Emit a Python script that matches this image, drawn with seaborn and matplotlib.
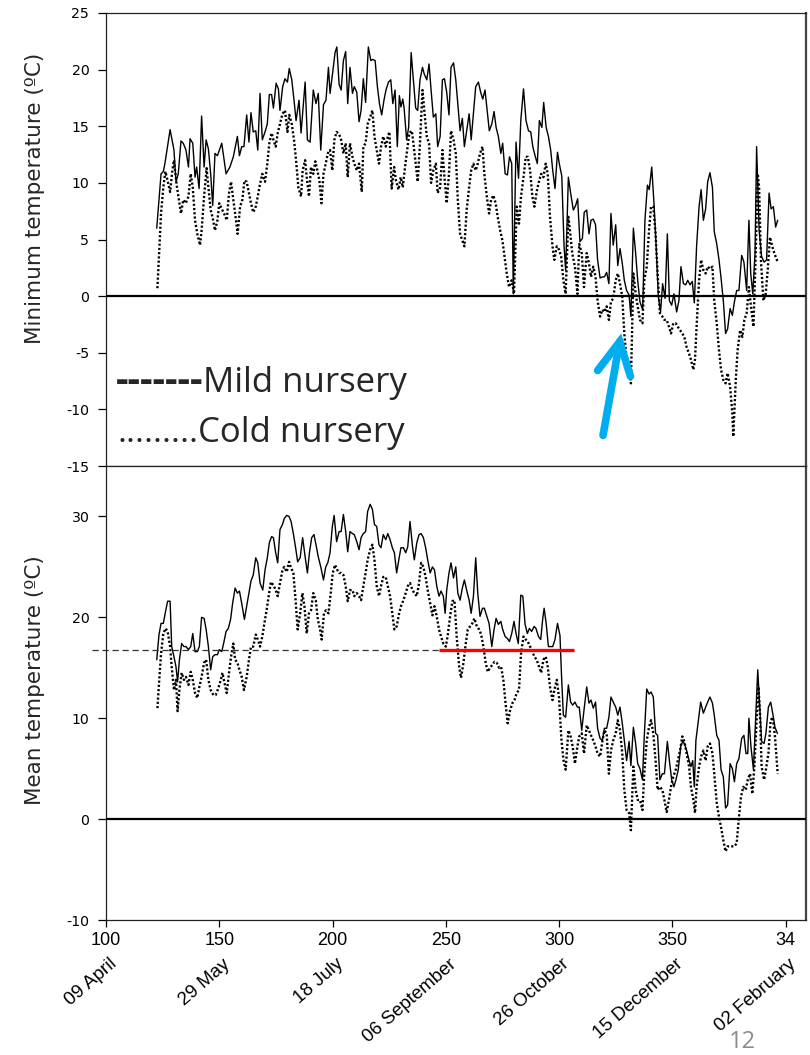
import matplotlib
matplotlib.use("Agg")
import matplotlib.pyplot as plt
import matplotlib.transforms as mtransforms
import pandas as pd
import seaborn as sns

# ---------------------------------------------------------------------------
# Daily temperatures (day of year, degC); days past 365 run into the next year
# ---------------------------------------------------------------------------
MILD_MIN = [
    (122.4, 6.0), (124.3, 10.8), (125.3, 11.0), (126.0, 11.7), (128.3, 14.7), (130.0, 12.9),
    (130.9, 10.1), (131.9, 10.8), (133.1, 13.7), (134.1, 13.5), (135.3, 12.9), (136.4, 11.4),
    (137.1, 13.9), (138.3, 13.5), (139.3, 10.5), (140.0, 11.4), (141.1, 9.5), (142.2, 15.9),
    (143.3, 11.4), (144.2, 13.8), (145.2, 13.0), (146.2, 10.8), (147.1, 8.0), (148.1, 12.6),
    (149.2, 12.4), (151.1, 13.5), (153.0, 10.8), (154.7, 11.4), (156.2, 12.3), (158.0, 14.1),
    (158.9, 12.4), (159.9, 13.2), (160.9, 13.2), (162.1, 16.0), (163.1, 13.6), (164.0, 16.2),
    (165.0, 14.5), (166.1, 14.6), (167.0, 12.9), (168.0, 17.9), (169.0, 13.8), (170.2, 14.5),
    (171.2, 15.2), (172.1, 17.8), (173.1, 17.8), (173.9, 16.6), (175.1, 18.8), (176.1, 18.3),
    (176.8, 16.4), (178.0, 18.5), (179.0, 19.2), (180.1, 18.9), (180.9, 20.1), (182.0, 19.1),
    (183.0, 17.3), (183.9, 15.5), (185.2, 17.3), (186.1, 14.4), (187.9, 18.9), (188.9, 13.8),
    (190.1, 13.6), (191.5, 18.2), (192.7, 17.0), (193.7, 17.9), (194.8, 12.9), (196.0, 16.9),
    (197.1, 17.3), (198.2, 20.2), (198.9, 17.9), (200.1, 19.8), (201.1, 21.5), (201.9, 22.0),
    (202.9, 18.7), (203.8, 18.2), (204.8, 20.8), (205.8, 21.6), (206.7, 17.0), (207.7, 20.2),
    (208.8, 17.9), (209.6, 18.5), (210.7, 18.0), (211.7, 15.4), (212.6, 16.4), (213.6, 19.2),
    (214.6, 17.1), (215.8, 22.0), (216.9, 20.8), (217.7, 20.9), (218.8, 20.8), (219.8, 18.5),
    (220.7, 17.0), (221.7, 16.0), (222.7, 17.3), (223.6, 18.2), (224.7, 18.9), (225.7, 19.1),
    (226.6, 17.0), (227.6, 18.2), (228.6, 13.2), (229.5, 17.7), (230.2, 16.7), (231.0, 17.4),
    (231.6, 16.6), (232.7, 13.8), (233.6, 14.9), (234.7, 21.5), (235.7, 19.1), (236.7, 16.6),
    (237.6, 16.4), (238.6, 19.1), (239.7, 20.2), (240.5, 19.6), (241.6, 19.1), (242.6, 20.5),
    (243.5, 18.2), (244.5, 15.8), (245.6, 16.1), (246.4, 13.2), (247.5, 14.1), (248.5, 19.1),
    (249.4, 19.2), (250.4, 18.0), (251.4, 16.0), (252.3, 20.2), (253.4, 20.6), (254.4, 19.1),
    (255.3, 17.0), (256.3, 14.6), (257.3, 15.7), (258.2, 13.2), (259.2, 14.6), (260.3, 16.1),
    (261.2, 13.8), (262.2, 16.1), (263.2, 18.5), (264.4, 18.9), (265.4, 18.0), (266.3, 17.4),
    (267.3, 18.2), (268.4, 16.1), (269.2, 14.6), (270.3, 15.2), (271.3, 16.3), (272.2, 14.9),
    (273.2, 14.1), (274.3, 12.6), (275.1, 13.5), (276.2, 10.8), (277.2, 10.7), (278.1, 12.3),
    (279.1, 11.7), (279.8, 0.2), (281.0, 13.6), (282.1, 10.4), (283.1, 15.5), (284.3, 18.3),
    (285.4, 15.5), (286.5, 14.6), (287.5, 14.5), (288.4, 13.2), (289.4, 12.4), (290.4, 11.7),
    (291.3, 15.5), (292.4, 14.9), (293.2, 17.1), (294.3, 14.9), (295.3, 14.1), (296.3, 12.9),
    (297.2, 11.1), (298.2, 9.5), (299.3, 12.7), (300.1, 11.7), (301.2, 10.6), (302.2, 4.4),
    (302.9, 2.3), (304.1, 10.5), (305.1, 9.1), (306.3, 7.6), (307.3, 8.0), (308.2, 8.6),
    (309.2, 4.8), (310.3, 5.1), (311.1, 7.4), (312.2, 7.6), (313.2, 5.5), (314.1, 6.7),
    (315.1, 6.8), (316.1, 6.3), (317.0, 3.2), (318.1, 1.6), (319.1, 1.7), (320.0, 1.7),
    (321.0, 2.1), (322.0, 1.1), (322.9, 7.3), (323.9, 4.5), (325.0, 6.3), (325.9, 2.7),
    (326.9, 4.2), (327.9, 2.9), (328.8, 1.4), (329.8, 0.5), (330.9, 0.1), (331.7, -1.8),
    (332.8, 6.0), (333.8, 3.8), (334.7, 1.4), (335.7, -0.5), (336.9, -1.2), (337.9, 6.7),
    (339.0, 9.8), (339.8, 9.4), (340.9, 11.4), (341.9, 8.2), (342.8, 4.6), (343.8, 0.0),
    (344.8, -1.4), (345.7, 1.1), (346.8, -0.2), (347.8, 5.5), (348.7, -0.4), (349.7, -0.8),
    (350.7, 0.2), (351.9, -1.4), (352.9, -0.4), (353.8, 2.6), (354.9, 1.1), (355.9, 1.0),
    (356.8, 1.4), (357.8, 1.0), (358.8, 1.3), (359.7, -0.6), (360.7, 4.4), (361.8, 7.9),
    (362.7, 9.4), (363.7, 6.7), (364.7, 7.7), (365.6, 10.1), (366.6, 10.9), (367.7, 9.6),
    (368.5, 5.7), (369.6, 4.6), (370.6, 3.2), (371.5, 1.6), (372.5, -0.4), (373.5, -3.3),
    (374.4, -2.9), (375.5, -1.1), (376.5, -1.7), (377.4, -0.5), (378.4, 0.5), (379.4, 0.5),
    (380.6, 3.6), (381.6, 3.0), (382.8, 0.5), (383.8, 6.7), (384.6, 2.0), (385.5, 0.2),
    (386.5, 3.8), (387.2, 13.2), (388.3, 5.8), (389.4, 3.5), (390.5, 3.0), (391.6, 3.2),
    (392.7, 9.1), (393.6, 7.7), (394.6, 7.9), (395.6, 6.1), (396.5, 6.7),
]

COLD_MIN = [
    (122.7, 0.7), (123.5, 4.1), (124.3, 7.3), (125.3, 9.6), (126.2, 11.0), (127.2, 10.2),
    (128.3, 9.2), (129.3, 11.1), (130.0, 12.0), (131.2, 9.8), (132.2, 8.5), (133.1, 7.3),
    (134.1, 8.5), (135.2, 8.2), (136.4, 8.8), (137.4, 10.8), (138.3, 9.6), (139.3, 6.7),
    (140.3, 5.5), (141.5, 4.5), (142.2, 5.8), (143.3, 8.8), (144.4, 11.3), (145.2, 9.6),
    (146.2, 7.6), (147.1, 6.9), (148.1, 5.8), (149.2, 6.7), (150.0, 8.2), (151.1, 7.7),
    (152.1, 7.3), (153.3, 6.7), (154.3, 9.1), (155.2, 10.1), (156.2, 8.5), (157.2, 7.0),
    (158.1, 5.5), (159.2, 7.9), (160.2, 8.5), (161.1, 10.2), (162.1, 10.1), (163.1, 9.1),
    (164.0, 8.2), (165.0, 7.4), (166.1, 7.9), (167.0, 8.8), (168.0, 9.9), (169.0, 10.8),
    (170.2, 10.1), (171.2, 11.7), (172.1, 13.5), (173.1, 14.4), (173.9, 13.8), (174.9, 13.2),
    (175.8, 14.4), (176.8, 15.2), (177.9, 16.1), (179.0, 16.4), (180.1, 14.5), (180.9, 16.0),
    (182.0, 15.2), (183.0, 13.8), (183.9, 12.0), (184.9, 9.6), (186.1, 8.8), (186.8, 11.1),
    (187.9, 12.0), (188.6, 10.5), (189.6, 8.8), (190.5, 11.4), (191.5, 10.8), (192.4, 11.9),
    (193.3, 11.1), (194.2, 10.2), (195.1, 8.2), (196.0, 10.8), (197.0, 11.7), (197.9, 12.6),
    (198.9, 12.9), (199.9, 11.1), (200.8, 13.8), (201.8, 14.5), (202.9, 14.3), (203.8, 13.8),
    (204.8, 12.6), (205.8, 13.5), (206.7, 10.5), (207.7, 13.5), (208.8, 12.3), (209.6, 11.7),
    (210.7, 11.1), (211.7, 11.7), (212.9, 9.2), (213.6, 13.2), (214.6, 13.5), (215.5, 15.2),
    (216.6, 15.8), (217.6, 16.4), (218.5, 14.1), (219.5, 12.9), (220.5, 11.7), (221.4, 13.2),
    (222.4, 14.1), (223.5, 13.2), (224.4, 14.1), (225.1, 14.5), (226.1, 9.5), (227.2, 11.4),
    (228.0, 10.2), (229.1, 9.4), (230.1, 10.5), (231.0, 9.6), (232.0, 11.4), (233.0, 13.0),
    (233.9, 14.4), (235.0, 14.6), (235.7, 13.5), (236.7, 11.7), (237.6, 10.1), (238.6, 13.5),
    (239.7, 18.2), (240.5, 16.4), (241.6, 14.1), (242.6, 13.5), (243.5, 10.0), (244.5, 11.1),
    (245.6, 11.7), (246.4, 9.1), (247.5, 9.6), (248.5, 12.9), (249.4, 10.5), (250.4, 8.2),
    (251.4, 10.8), (252.3, 14.6), (253.4, 13.8), (254.4, 12.6), (255.3, 8.5), (256.3, 5.5),
    (257.3, 4.9), (258.2, 4.4), (259.2, 7.6), (260.3, 9.6), (261.2, 11.1), (262.2, 11.7),
    (263.2, 11.1), (264.1, 11.7), (265.1, 12.6), (266.2, 13.2), (267.0, 10.8), (268.1, 8.8),
    (269.1, 7.3), (270.0, 8.5), (271.0, 8.9), (272.0, 8.2), (272.9, 7.0), (274.0, 5.8),
    (275.0, 4.9), (275.9, 3.5), (276.9, 2.0), (277.9, 0.8), (279.1, 1.4), (280.1, 0.2),
    (281.3, 7.9), (282.3, 6.4), (283.2, 8.8), (284.3, 10.5), (285.3, 12.3), (286.2, 12.3),
    (287.2, 11.1), (288.2, 8.8), (289.1, 7.9), (290.1, 9.2), (291.2, 10.2), (292.1, 10.8),
    (293.1, 10.5), (294.1, 11.7), (295.0, 10.8), (296.0, 7.0), (297.1, 4.4), (297.9, 3.2),
    (299.0, 4.4), (300.0, 4.1), (300.9, 3.5), (301.9, 1.4), (302.9, 0.2), (304.1, 7.0),
    (304.8, 5.8), (305.8, 3.8), (307.0, 2.6), (308.1, 0.2), (308.9, 4.6), (310.0, 3.8),
    (311.0, 0.8), (312.2, 3.8), (313.2, 2.9), (314.1, 1.7), (315.1, 2.6), (316.1, 1.7),
    (317.0, -0.4), (318.1, -1.8), (319.1, -1.2), (320.0, -1.4), (321.0, -0.9), (322.0, -2.1),
    (322.9, -0.5), (323.9, -0.2), (325.0, 1.4), (325.9, 2.0), (326.9, 1.1), (327.9, -0.1),
    (328.8, -3.3), (329.8, -5.6), (330.9, -5.6), (331.7, -7.7), (332.8, 2.0), (333.8, 0.2),
    (334.7, -0.9), (335.7, -2.1), (336.8, -2.4), (337.6, 1.4), (338.7, 2.6), (339.7, 5.8),
    (340.6, 7.9), (341.6, 7.9), (342.6, 5.5), (343.5, 2.0), (344.5, -1.5), (345.6, -1.8),
    (346.5, -2.1), (347.5, -2.1), (348.5, -2.7), (349.4, -3.3), (350.4, -2.4), (351.5, -2.4),
    (352.4, -2.7), (353.4, -3.0), (354.4, -3.3), (355.3, -3.6), (356.3, -4.5), (357.4, -5.1),
    (358.2, -5.6), (359.3, -6.5), (360.0, -5.6), (360.7, -2.7), (361.8, 1.4), (362.7, 3.2),
    (363.7, 2.3), (364.7, 2.0), (365.6, 2.6), (366.6, 2.4), (367.7, 2.6), (368.5, -0.4),
    (369.6, -2.4), (370.6, -4.8), (371.5, -6.5), (372.5, -7.4), (373.5, -7.7), (374.4, -6.8),
    (375.5, -8.0), (376.5, -10.4), (376.9, -12.4), (378.0, -7.4), (378.8, -4.8), (379.9, -3.0),
    (380.9, -3.6), (381.8, -2.1), (382.8, -1.5), (383.8, 0.8), (384.7, -0.9), (385.8, -2.7),
    (386.8, 3.8), (387.7, 10.8), (388.3, 9.6), (389.1, 3.2), (390.2, -0.4), (391.2, 0.2),
    (392.1, 2.3), (393.1, 5.2), (394.1, 4.4), (395.0, 3.8), (396.5, 3.0),
]

MILD_MEAN = [
    (122.4, 15.8), (123.4, 18.3), (124.3, 19.4), (125.3, 19.4), (126.3, 20.6), (127.2, 21.6),
    (128.3, 21.6), (129.0, 17.1), (130.0, 16.1), (130.9, 15.1), (131.6, 13.6), (132.4, 15.8),
    (133.4, 17.4), (134.4, 17.1), (135.3, 17.1), (136.4, 16.8), (137.4, 17.1), (138.3, 18.4),
    (139.3, 16.6), (140.3, 16.6), (141.2, 17.1), (142.2, 20.0), (143.3, 19.9), (144.2, 18.8),
    (145.2, 17.1), (146.2, 14.8), (147.1, 16.1), (148.1, 16.3), (149.2, 16.3), (150.0, 16.8),
    (151.1, 16.6), (152.1, 17.6), (153.0, 18.6), (154.0, 18.9), (155.0, 19.8), (155.9, 21.4),
    (157.0, 22.9), (158.0, 22.4), (158.9, 22.6), (159.9, 21.4), (161.1, 19.8), (162.1, 21.1),
    (163.1, 22.4), (164.0, 23.6), (165.0, 24.2), (166.1, 25.9), (167.0, 25.4), (168.0, 23.4),
    (169.2, 22.7), (170.2, 24.7), (171.2, 25.9), (172.1, 27.4), (173.1, 28.0), (173.9, 27.9),
    (174.9, 26.4), (175.8, 25.4), (176.8, 28.7), (177.9, 29.2), (178.7, 29.8), (179.8, 30.1),
    (180.8, 30.0), (181.7, 29.5), (182.7, 28.3), (183.7, 26.9), (184.6, 25.5), (185.7, 25.9),
    (186.8, 27.9), (187.9, 26.0), (188.9, 24.4), (189.8, 26.4), (190.8, 27.9), (191.8, 28.2),
    (192.7, 27.2), (193.7, 26.0), (194.8, 25.0), (196.0, 23.7), (197.0, 25.0), (197.9, 25.4),
    (198.9, 26.4), (199.9, 29.0), (200.7, 30.1), (201.8, 27.5), (202.9, 28.5), (203.8, 28.5),
    (204.8, 30.2), (205.8, 28.5), (206.7, 26.5), (207.7, 28.5), (208.8, 28.3), (209.6, 28.2),
    (210.7, 27.5), (211.7, 26.7), (212.6, 27.9), (213.6, 28.3), (214.6, 28.5), (215.5, 30.5),
    (216.6, 31.2), (217.6, 30.7), (218.5, 29.2), (219.5, 29.0), (220.5, 27.2), (221.4, 26.9),
    (222.4, 28.2), (223.5, 27.7), (224.4, 28.3), (225.4, 27.7), (226.4, 26.9), (227.3, 26.4),
    (228.3, 24.4), (229.4, 25.9), (230.2, 26.9), (231.3, 26.9), (232.3, 26.4), (233.2, 27.0),
    (234.2, 29.5), (235.3, 27.0), (236.1, 25.7), (237.2, 27.4), (238.2, 28.2), (239.1, 28.3),
    (240.1, 27.9), (241.1, 26.9), (242.0, 25.7), (243.1, 24.4), (244.1, 25.0), (245.0, 24.7),
    (246.0, 23.1), (247.0, 22.1), (247.9, 22.6), (248.9, 22.1), (249.7, 20.4), (250.4, 22.7),
    (251.4, 24.4), (252.3, 25.4), (253.4, 23.9), (254.4, 25.0), (255.3, 22.4), (256.3, 21.7),
    (257.3, 22.9), (258.2, 23.7), (259.2, 22.7), (260.3, 21.7), (261.2, 20.4), (262.2, 22.1),
    (263.2, 25.9), (264.1, 22.4), (265.1, 20.1), (266.2, 20.9), (267.0, 20.9), (268.1, 20.1),
    (269.1, 19.4), (270.3, 17.1), (271.3, 18.8), (272.2, 19.9), (273.2, 19.3), (274.3, 19.6),
    (275.1, 18.8), (276.2, 18.1), (277.2, 17.9), (278.1, 17.6), (279.1, 18.4), (280.1, 19.6),
    (281.0, 18.4), (282.0, 17.4), (283.1, 22.2), (284.0, 22.1), (285.0, 19.3), (286.0, 18.4),
    (286.9, 18.9), (287.9, 18.6), (289.0, 19.1), (289.8, 18.9), (290.9, 18.1), (291.9, 17.8),
    (292.8, 19.9), (293.4, 20.9), (294.3, 19.4), (295.3, 17.1), (296.3, 17.1), (297.2, 17.1),
    (298.2, 17.8), (299.3, 19.4), (300.4, 18.2), (301.1, 14.1), (301.9, 10.3), (302.9, 10.1),
    (304.1, 13.3), (305.1, 11.6), (306.0, 11.3), (307.0, 11.6), (308.1, 11.1), (308.9, 11.1),
    (310.0, 8.8), (311.0, 10.8), (312.2, 13.1), (313.2, 11.5), (314.1, 11.8), (315.1, 11.0),
    (316.1, 11.6), (317.0, 9.0), (318.1, 8.0), (319.1, 7.8), (320.0, 9.0), (321.0, 9.0),
    (322.0, 10.1), (322.9, 12.1), (323.9, 11.6), (325.0, 11.1), (325.9, 10.3), (326.9, 11.1),
    (327.9, 9.5), (328.8, 7.8), (329.8, 5.8), (330.9, 7.7), (331.7, 5.3), (332.8, 9.1),
    (333.8, 7.5), (334.7, 5.5), (335.7, 5.0), (336.8, 3.9), (337.6, 8.2), (338.7, 12.9),
    (339.7, 12.4), (340.6, 12.6), (341.6, 12.1), (342.6, 8.5), (343.5, 8.3), (344.5, 3.9),
    (345.6, 4.5), (346.5, 4.5), (347.8, 7.7), (348.7, 5.8), (349.7, 3.9), (350.7, 3.2),
    (351.6, 3.9), (352.6, 4.9), (353.7, 7.2), (354.6, 7.7), (355.3, 7.5), (356.3, 6.8),
    (357.4, 5.8), (358.2, 5.2), (359.0, 5.8), (359.7, 3.2), (360.4, 7.8), (361.5, 9.8),
    (362.5, 11.6), (363.7, 10.5), (364.7, 11.1), (365.6, 11.6), (366.6, 12.1), (367.7, 11.5),
    (368.5, 10.3), (369.6, 8.3), (370.6, 7.8), (371.5, 4.9), (372.5, 4.2), (373.5, 1.1),
    (374.4, 1.4), (375.5, 5.5), (376.5, 5.0), (377.4, 3.7), (378.4, 5.5), (379.4, 6.0),
    (380.6, 8.0), (381.6, 8.3), (382.5, 6.5), (383.3, 6.5), (383.8, 10.0), (384.7, 7.2),
    (385.8, 4.9), (386.8, 10.1), (387.7, 14.8), (388.7, 10.5), (389.4, 7.7), (390.5, 7.5),
    (391.3, 8.5), (392.4, 11.1), (393.4, 11.6), (394.3, 10.5), (395.3, 9.1), (396.4, 8.5),
]

COLD_MEAN = [
    (122.7, 11.0), (123.5, 13.8), (124.3, 16.4), (125.3, 18.4), (126.3, 18.9), (127.2, 18.6),
    (128.3, 17.1), (129.0, 15.1), (130.0, 12.8), (130.9, 13.8), (131.6, 10.7), (132.4, 12.8),
    (133.4, 14.5), (134.4, 13.8), (135.3, 14.1), (136.4, 13.3), (137.4, 14.6), (138.3, 13.8),
    (139.3, 12.5), (140.3, 12.0), (141.2, 13.1), (142.2, 14.1), (143.3, 15.5), (144.2, 15.8),
    (145.2, 13.8), (146.2, 12.8), (147.4, 12.3), (148.4, 12.3), (149.3, 12.8), (150.3, 13.5),
    (151.4, 14.5), (152.2, 13.6), (153.3, 12.5), (154.3, 14.5), (155.2, 16.1), (156.2, 17.4),
    (157.0, 15.8), (158.0, 15.5), (158.9, 14.8), (159.9, 14.1), (160.9, 12.8), (162.1, 14.1),
    (163.1, 15.8), (164.0, 17.1), (165.0, 17.1), (166.1, 18.3), (167.0, 17.8), (168.0, 17.1),
    (169.0, 18.1), (169.9, 19.4), (170.9, 20.7), (172.0, 22.4), (172.8, 23.5), (173.9, 23.2),
    (174.9, 22.7), (175.8, 22.1), (176.8, 23.4), (177.9, 24.7), (178.7, 25.0), (179.8, 24.5),
    (180.8, 25.5), (181.7, 24.9), (182.7, 24.4), (183.7, 21.7), (184.6, 18.8), (185.7, 20.4),
    (186.7, 22.4), (187.6, 21.1), (188.6, 18.4), (189.6, 20.4), (190.5, 20.7), (191.5, 22.4),
    (192.6, 21.7), (193.5, 19.8), (194.5, 18.8), (195.2, 17.8), (196.2, 20.4), (197.1, 20.7),
    (198.2, 20.4), (199.2, 22.4), (200.1, 24.4), (201.1, 25.2), (202.1, 24.7), (202.9, 24.4),
    (203.8, 24.4), (204.8, 24.2), (205.8, 23.1), (206.7, 21.6), (207.7, 22.7), (208.8, 22.7),
    (209.6, 22.1), (210.7, 22.4), (211.7, 22.1), (212.6, 21.7), (213.6, 23.1), (214.6, 24.4),
    (215.5, 25.7), (216.6, 26.7), (217.6, 27.2), (218.5, 25.7), (219.5, 23.1), (220.5, 22.1),
    (221.4, 23.1), (222.4, 24.0), (223.5, 24.0), (224.4, 23.1), (225.4, 22.1), (226.4, 20.4),
    (227.3, 18.8), (228.3, 19.1), (229.4, 20.4), (230.2, 21.1), (231.3, 21.7), (232.3, 22.4),
    (233.2, 23.1), (234.2, 23.4), (235.3, 22.7), (236.1, 22.4), (237.2, 22.1), (238.2, 23.4),
    (239.1, 25.4), (240.1, 25.0), (241.1, 24.0), (242.0, 22.7), (243.1, 21.4), (244.1, 20.2),
    (245.0, 21.1), (246.0, 20.1), (247.0, 18.8), (247.9, 18.1), (248.9, 17.4), (250.0, 17.1),
    (250.9, 18.3), (251.9, 20.1), (252.9, 21.6), (253.8, 21.7), (254.8, 18.1), (255.9, 15.1),
    (256.7, 14.0), (257.8, 15.5), (258.8, 17.4), (259.7, 18.8), (260.7, 19.1), (261.7, 19.4),
    (262.6, 19.9), (263.7, 19.1), (264.7, 18.8), (265.6, 18.3), (266.6, 17.1), (267.6, 15.5),
    (268.5, 14.6), (269.5, 15.0), (270.6, 15.3), (271.5, 15.6), (272.5, 15.5), (273.5, 15.0),
    (274.4, 15.1), (275.4, 13.8), (276.5, 11.2), (277.3, 9.5), (278.4, 10.8), (279.4, 11.5),
    (280.3, 11.8), (281.3, 12.5), (282.3, 12.8), (283.2, 16.4), (284.3, 18.1), (285.3, 17.8),
    (286.2, 17.6), (287.2, 17.1), (288.2, 16.6), (289.1, 16.1), (290.1, 15.8), (291.2, 15.1),
    (292.1, 14.5), (293.1, 15.8), (294.1, 16.1), (295.0, 15.1), (296.0, 13.1), (297.1, 11.8),
    (297.9, 12.8), (299.0, 13.8), (300.0, 12.0), (301.0, 8.0), (301.9, 5.9), (302.9, 4.9),
    (304.1, 8.8), (305.1, 8.2), (306.0, 7.2), (307.0, 5.5), (308.1, 7.2), (308.9, 8.2),
    (310.0, 8.5), (311.0, 6.5), (312.2, 9.3), (313.2, 8.8), (314.1, 8.3), (315.1, 7.8),
    (316.1, 7.2), (317.0, 6.5), (318.1, 6.2), (319.1, 7.7), (320.0, 8.8), (321.0, 8.5),
    (322.0, 4.5), (322.9, 6.8), (323.9, 7.8), (325.0, 8.5), (325.9, 9.8), (326.9, 8.8),
    (327.9, 6.5), (328.8, 2.9), (329.8, 0.9), (330.9, 0.6), (331.7, -1.1), (332.8, 5.2),
    (333.8, 2.9), (334.7, 1.9), (335.7, 1.9), (336.8, 0.9), (337.6, 4.5), (338.7, 7.8),
    (339.7, 9.1), (340.6, 9.8), (341.6, 8.5), (342.6, 5.8), (343.5, 2.9), (344.5, 3.2),
    (345.6, 2.9), (346.5, 1.9), (347.5, 0.7), (348.5, 1.9), (349.4, 3.2), (350.4, 4.2),
    (351.5, 4.9), (352.4, 5.8), (353.4, 6.8), (354.4, 8.2), (355.3, 7.7), (356.3, 6.5),
    (357.4, 5.2), (358.2, 3.2), (359.3, 1.9), (360.0, 0.6), (360.7, 3.2), (361.8, 5.2),
    (362.7, 6.2), (363.7, 6.8), (364.7, 5.8), (365.6, 7.2), (366.6, 7.5), (367.7, 6.5),
    (368.5, 4.5), (369.6, 1.6), (370.6, 0.2), (371.5, -0.8), (372.5, -2.1), (373.5, -3.2),
    (374.4, -2.7), (375.5, -2.7), (376.5, -2.7), (377.4, -2.7), (378.4, -2.4), (379.4, 0.2),
    (380.3, 2.2), (381.3, 3.2), (382.4, 2.9), (383.3, 3.9), (384.3, 4.5), (385.3, 2.5),
    (386.2, 5.2), (387.2, 9.8), (388.0, 13.1), (388.7, 10.5), (389.4, 5.2), (390.5, 3.9),
    (391.3, 4.9), (392.4, 6.5), (393.4, 9.8), (394.3, 10.1), (395.3, 8.2), (396.5, 4.5),
]

# Axis ticks and calendar labels
X_TICKS = [100, 150, 200, 250, 300, 350, 400]
X_TICK_LABELS = ["100", "150", "200", "250", "300", "350", "34"]
DATE_LABELS = ["09 April", "29 May", "18 July", "06 September",
               "26 October", "15 December", "02 February"]
MIN_Y_TICKS = [-15, -10, -5, 0, 5, 10, 15, 20, 25]
MEAN_Y_TICKS = [-10, 0, 10, 20, 30]

# Mean-temperature threshold and the window where the mild nursery sits on it
THRESHOLD = 16.8
THRESHOLD_WINDOW = (247.0, 306.5)

# ---------------------------------------------------------------------------
sns.set_theme(style="ticks")
plt.rcParams["font.family"] = ["DejaVu Sans"]
plt.rcParams["axes.unicode_minus"] = False
plt.rcParams["axes.linewidth"] = 0.9
plt.rcParams["axes.edgecolor"] = "#222222"

fig = plt.figure(figsize=(8.10, 10.55), dpi=100)
W, H = 810.0, 1055.0
left, right = 106 / W, 806 / W
ax_min = fig.add_axes([left, 1 - 466 / H, right - left, (466 - 13) / H])
ax_mean = fig.add_axes([left, 1 - 920 / H, right - left, (920 - 466) / H])

SOLID = dict(color="black", lw=1.0)
DOTTED = dict(color="black", lw=1.7, linestyle=(0, (0.9, 0.9)))


def draw_series(ax, pairs, style):
    df = pd.DataFrame(pairs, columns=["day", "temp"])
    sns.lineplot(data=df, x="day", y="temp", ax=ax, estimator=None,
                 sort=False, legend=False, **style)


draw_series(ax_min, COLD_MIN, DOTTED)
draw_series(ax_min, MILD_MIN, SOLID)
draw_series(ax_mean, COLD_MEAN, DOTTED)
draw_series(ax_mean, MILD_MEAN, SOLID)

for ax, ylim, yticks in ((ax_min, (-15, 25), MIN_Y_TICKS),
                         (ax_mean, (-10, 35), MEAN_Y_TICKS)):
    ax.set_xlim(100, 409)
    ax.set_ylim(*ylim)
    ax.set_yticks(yticks)
    ax.set_xlabel("")
    ax.set_ylabel("")
    ax.axhline(0, color="black", lw=1.6, zorder=3)
    ax.tick_params(axis="y", direction="out", length=5.5, width=0.9,
                   pad=6.5, labelsize=10.2, colors="black")
    for lbl in ax.get_yticklabels():
        lbl.set_fontfamily("DejaVu Sans")
    for side in ("top", "right", "left", "bottom"):
        ax.spines[side].set_visible(True)
    ax.spines["right"].set_linewidth(1.6)
    ax.spines["right"].set_color("#444444")

ax_min.tick_params(axis="x", bottom=False, labelbottom=False)
ax_mean.set_xticks(X_TICKS)
ax_mean.set_xticklabels(X_TICK_LABELS)
ax_mean.tick_params(axis="x", direction="out", length=5, width=0.9, pad=3.5,
                    labelsize=13, colors="black")
for lbl in ax_mean.get_xticklabels():
    lbl.set_fontfamily("Liberation Sans")

# Threshold: dashed reference line and the highlighted stretch
ax_mean.plot([94, THRESHOLD_WINDOW[0]], [THRESHOLD, THRESHOLD], color="#333333",
             lw=0.9, linestyle=(0, (5, 3)), clip_on=False, zorder=2)
ax_mean.plot(list(THRESHOLD_WINDOW), [THRESHOLD, THRESHOLD], color="#ff0000",
             lw=2.4, solid_capstyle="butt", zorder=4)

# Frost arrow in the minimum-temperature panel
ax_min.annotate("", xy=(327.4, -3.3), xytext=(319.4, -12.3),
                arrowprops=dict(arrowstyle="->,head_length=0.58,head_width=0.3",
                                color="#00AEEF", lw=5.5, mutation_scale=40,
                                shrinkA=0, shrinkB=0, capstyle="round",
                                joinstyle="miter"),
                zorder=5)

# Calendar dates under the day-of-year ticks
date_tf = mtransforms.blended_transform_factory(ax_mean.transData, fig.transFigure) + \
    mtransforms.ScaledTranslation(6 / 72, 0, fig.dpi_scale_trans)
for tick, label in zip(X_TICKS, DATE_LABELS):
    fig.text(tick, 1 - 962 / H, label, transform=date_tf, rotation=41,
             rotation_mode="anchor", ha="right", va="center", fontsize=13.5,
             family="Liberation Sans", color="black")

# Axis titles
fig.text(35 / W, 1 - 198 / H, "Minimum temperature (ºC)", rotation=90,
         ha="center", va="center", fontsize=15.5, family="DejaVu Sans")
fig.text(35 / W, 1 - 680 / H, "Mean temperature (ºC)", rotation=90,
         ha="center", va="center", fontsize=15.5, family="DejaVu Sans")

# Series key written inside the upper panel
fig.text(203 / W, 1 - 392 / H, "Mild nursery", ha="left", va="baseline",
         fontsize=25, family="Open Sans")
fig.text(203 / W, 1 - 392 / H, "-------", ha="right", va="baseline",
         fontsize=28, family="Open Sans", weight="bold")
fig.text(198 / W, 1 - 442 / H, "Cold nursery", ha="left", va="baseline",
         fontsize=25, family="Open Sans")
fig.text(198 / W, 1 - 442 / H, ".........", ha="right", va="baseline",
         fontsize=25, family="Open Sans")

# Page number
fig.text(742 / W, 1 - 1054 / H, "12", ha="center", va="bottom",
         fontsize=17, family="Open Sans", color="#8c8c8c")

fig.savefig("out.png", dpi=100)
